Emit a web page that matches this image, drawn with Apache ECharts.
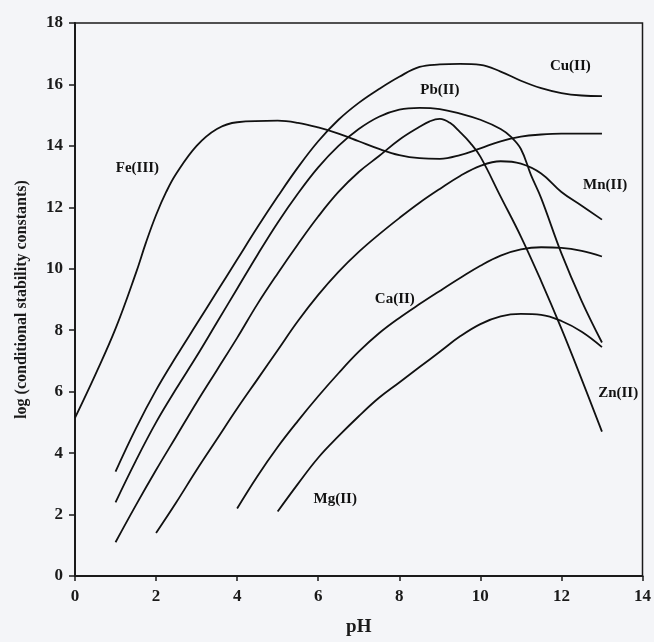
<!DOCTYPE html>
<html>
<head>
<meta charset="utf-8">
<script src="https://cdn.jsdelivr.net/npm/echarts@6/dist/echarts.min.js"></script>
<style>
html,body{margin:0;padding:0;background:#f4f5f8;}
#c{width:654px;height:642px;}
</style>
</head>
<body>
<div id="c"></div>
<script>
// pH values and log K values
var feIII = [[0,5.15],[0.5,6.55],[1,8.05],[1.5,9.85],[1.75,10.85],[2,11.75],[2.25,12.5],[2.5,13.1],[3,14.0],[3.5,14.55],[4,14.77],[5,14.82],[5.5,14.75],[6,14.6],[6.5,14.4],[7,14.15],[7.5,13.9],[8,13.7],[8.5,13.6],[9,13.58],[9.5,13.7],[10,13.92],[10.5,14.15],[11,14.3],[11.5,14.37],[12,14.4],[13,14.4]];
var cuII = [[1,3.4],[1.5,4.8],[2,6.05],[2.5,7.15],[3,8.2],[3.5,9.25],[4,10.3],[4.5,11.35],[5,12.35],[5.5,13.3],[6,14.15],[6.5,14.85],[7,15.4],[7.5,15.85],[8,16.25],[8.5,16.57],[9,16.65],[9.5,16.67],[10,16.64],[10.5,16.42],[11,16.12],[11.5,15.88],[12,15.72],[12.5,15.64],[13,15.62]];
var pbII = [[1,2.4],[1.5,3.75],[2,5.0],[2.5,6.1],[3,7.15],[3.5,8.25],[4,9.35],[4.5,10.45],[5,11.5],[5.5,12.45],[6,13.3],[6.5,14.0],[7,14.55],[7.5,14.95],[8,15.18],[8.5,15.24],[9,15.2],[9.5,15.05],[10,14.85],[10.5,14.55],[10.75,14.3],[11,13.9],[11.25,13.05],[11.5,12.3],[12,10.5],[12.5,8.95],[13,7.6]];
var znII = [[1,1.1],[1.5,2.3],[2,3.45],[2.5,4.55],[3,5.65],[3.5,6.7],[4,7.75],[4.5,8.85],[5,9.85],[5.5,10.8],[6,11.7],[6.5,12.5],[7,13.15],[7.5,13.67],[8,14.2],[8.5,14.62],[8.75,14.8],[9,14.88],[9.25,14.75],[9.5,14.45],[9.75,14.1],[10,13.65],[10.5,12.35],[11,11.05],[11.5,9.6],[12,8.05],[12.5,6.4],[13,4.7]];
var mnII = [[2,1.4],[2.5,2.4],[3,3.45],[3.5,4.45],[4,5.45],[4.5,6.4],[5,7.35],[5.5,8.3],[6,9.15],[6.5,9.9],[7,10.55],[7.5,11.12],[8,11.65],[8.5,12.15],[9,12.6],[9.5,13.02],[10,13.35],[10.5,13.5],[11,13.42],[11.5,13.1],[12,12.5],[12.5,12.05],[13,11.6]];
var caII = [[4,2.2],[4.5,3.25],[5,4.2],[5.5,5.05],[6,5.85],[6.5,6.6],[7,7.3],[7.5,7.9],[8,8.4],[8.5,8.85],[9,9.28],[9.5,9.7],[10,10.1],[10.5,10.43],[11,10.63],[11.5,10.7],[12,10.68],[12.5,10.58],[13,10.4]];
var mgII = [[5,2.1],[5.5,3.0],[6,3.85],[6.5,4.55],[7,5.2],[7.5,5.8],[8,6.3],[8.5,6.8],[9,7.3],[9.5,7.8],[10,8.2],[10.5,8.45],[11,8.53],[11.5,8.5],[12,8.3],[12.5,7.95],[13,7.45]];
var seriesNames = ['Fe(III)','Cu(II)','Pb(II)','Zn(II)','Mn(II)','Ca(II)','Mg(II)'];
// label anchor points (pH, log K) for the curve names
var labelPoints = [[1.54,13.27,'Fe(III)'],[9.0,15.83,'Pb(II)'],[12.22,16.61,'Cu(II)'],[13.08,12.72,'Mn(II)'],[7.89,9.02,'Ca(II)'],[6.42,2.49,'Mg(II)'],[13.4,5.96,'Zn(II)']];
var xTicks = [0,2,4,6,8,10,12,14];
var yTicks = [0,2,4,6,8,10,12,14,16,18];

var allData = [feIII, cuII, pbII, znII, mnII, caII, mgII];
var FONT = '"Liberation Serif", "Times New Roman", serif';
var series = allData.map(function(d, i){
  return {
    name: seriesNames[i], type: 'line', data: d, smooth: 0.4,
    showSymbol: false, silent: true,
    lineStyle: {color: '#111', width: 1.8}
  };
});
series.push({
  type: 'scatter', data: labelPoints, symbolSize: 1, silent: true,
  itemStyle: {opacity: 0},
  label: {show: true, position: 'inside', formatter: function(p){return p.data[2];},
    fontFamily: FONT, fontSize: 15, fontWeight: 'bold', color: '#111', opacity: 1}
});

var chart = echarts.init(document.getElementById('c'), null, {renderer: 'canvas'});
chart.setOption({
  backgroundColor: '#f4f5f8',
  animation: false,
  grid: {left: 75, top: 23, right: 9, bottom: 64, show: true, borderColor: '#1a1a1a', borderWidth: 1.5, backgroundColor: 'transparent'},
  xAxis: {
    type: 'value', min: xTicks[0], max: xTicks[xTicks.length-1], interval: 2,
    name: 'pH', nameLocation: 'middle', nameGap: 42,
    nameTextStyle: {fontFamily: FONT, fontSize: 19, fontWeight: 'bold', color: '#1a1a1a'},
    axisLine: {lineStyle: {color: '#1a1a1a', width: 2}},
    axisTick: {show: true, length: 5, lineStyle: {color: '#1a1a1a', width: 1.5}},
    axisLabel: {fontFamily: FONT, fontSize: 17, fontWeight: 'bold', color: '#1a1a1a', margin: 12},
    splitLine: {show: false}
  },
  yAxis: {
    type: 'value', min: yTicks[0], max: yTicks[yTicks.length-1], interval: 2,
    name: 'log (conditional stability constants)', nameLocation: 'middle', nameGap: 45,
    nameTextStyle: {fontFamily: FONT, fontSize: 16, fontWeight: 'bold', color: '#1a1a1a'},
    axisLine: {lineStyle: {color: '#1a1a1a', width: 2}},
    axisTick: {show: true, length: 6, lineStyle: {color: '#1a1a1a', width: 1.5}},
    axisLabel: {fontFamily: FONT, fontSize: 17, fontWeight: 'bold', color: '#1a1a1a', margin: 12},
    splitLine: {show: false}
  },
  series: series
});
</script>
</body>
</html>
